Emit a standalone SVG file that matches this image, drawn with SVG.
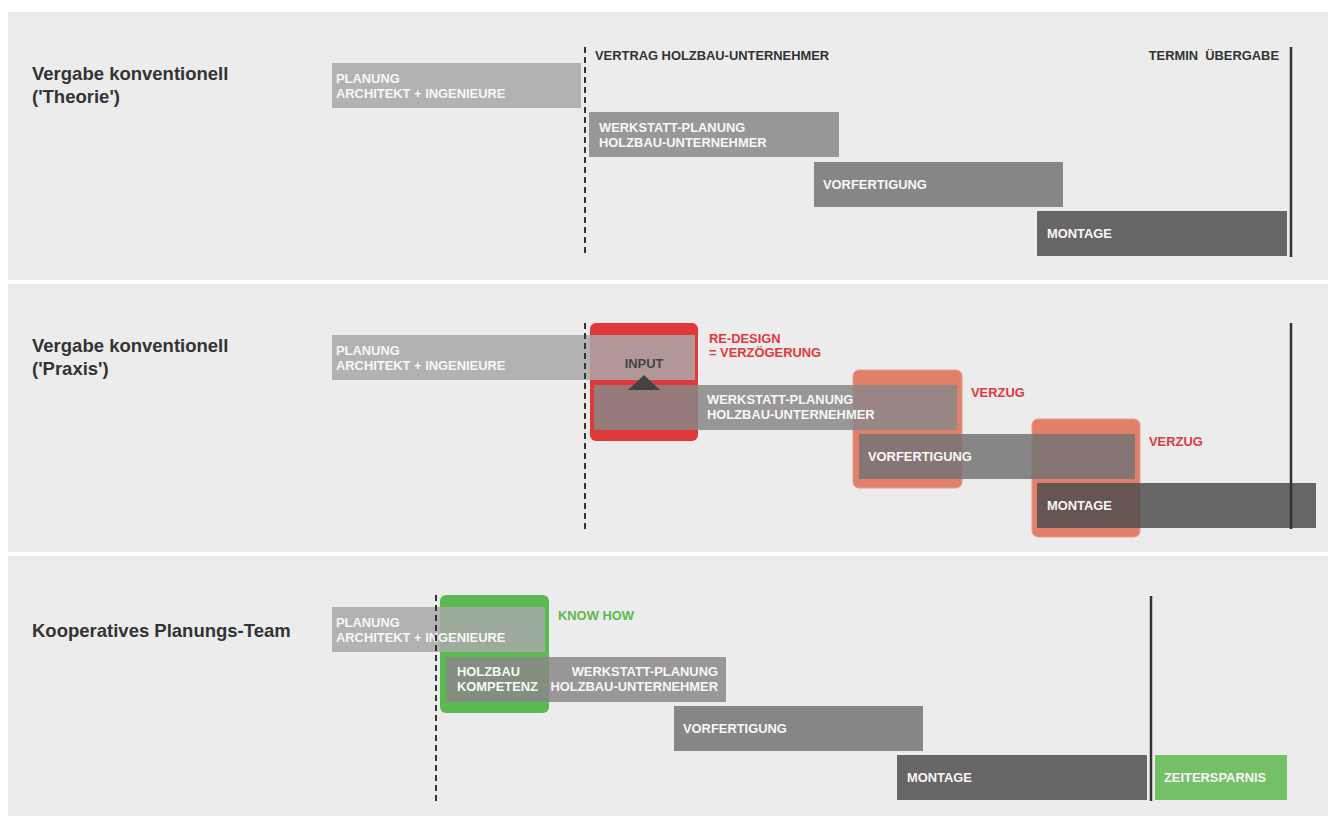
<svg xmlns="http://www.w3.org/2000/svg" width="1328" height="816" viewBox="0 0 1328 816">
<style>
.panel{fill:#ececec}
.title{font-family:"Liberation Sans",Arial,sans-serif;font-weight:bold;font-size:18.5px;fill:#333}
.lbl{font-family:"Liberation Sans",Arial,sans-serif;font-weight:bold;font-size:12.9px}
.w{fill:#f7f7f7}
.dk{fill:#333}
.red{fill:#e0393b}
.grn{fill:#5ab94f}
.b1{fill:#a8a8a8;fill-opacity:0.85}
.b2{fill:#898787;fill-opacity:0.85}
.b3{fill:#767474;fill-opacity:0.85}
.b4{fill:#504e4e;fill-opacity:0.85}
.dash{stroke:#333;stroke-width:2;stroke-dasharray:6 4;fill:none}
.line{stroke:#333;stroke-width:2.5;fill:none}
</style>
<rect width="1328" height="816" fill="#ffffff"/>
<g id="panels">
<rect class="panel" x="8" y="12" width="1320" height="268"/>
<rect class="panel" x="8" y="284" width="1320" height="268"/>
<rect class="panel" x="8" y="556" width="1320" height="260"/>
</g>

<!-- Panel 1 -->
<g id="title1"><text class="title" x="32" y="80">Vergabe konventionell</text><text class="title" x="32" y="103">('Theorie')</text></g>
<g id="p1-planung"><rect class="b1" x="332" y="63" width="249" height="45"/><text class="lbl w" x="336" y="83">PLANUNG</text><text class="lbl w" x="336" y="98">ARCHITEKT + INGENIEURE</text></g>
<g id="p1-werkstatt"><rect class="b2" x="589" y="112" width="250" height="45"/><text class="lbl w" x="599" y="132">WERKSTATT-PLANUNG</text><text class="lbl w" x="599" y="147">HOLZBAU-UNTERNEHMER</text></g>
<g id="p1-vorfertigung"><rect class="b3" x="814" y="162" width="249" height="45"/><text class="lbl w" x="823" y="189">VORFERTIGUNG</text></g>
<g id="p1-montage"><rect class="b4" x="1037" y="211" width="250" height="45"/><text class="lbl w" x="1047" y="238">MONTAGE</text></g>
<g id="p1-vertrag"><text class="lbl dk" x="595" y="60">VERTRAG HOLZBAU-UNTERNEHMER</text></g>
<g id="p1-termin"><text class="lbl dk" x="1279" y="60" text-anchor="end" style="white-space:pre">TERMIN  ÜBERGABE</text></g>

<!-- Panel 2 -->
<g id="title2"><text class="title" x="32" y="352">Vergabe konventionell</text><text class="title" x="32" y="375">('Praxis')</text></g>
<g id="p2-redesign"><rect x="590" y="323" width="108" height="118" rx="6" fill="#e0393b"/><text class="lbl red" x="709" y="343">RE-DESIGN</text><text class="lbl red" x="709" y="357">= VERZÖGERUNG</text></g>
<g id="p2-verzug1"><rect x="853" y="370" width="109" height="118" rx="6" fill="#e0806a" stroke="#e89a86" stroke-width="1"/><text class="lbl red" x="971" y="397">VERZUG</text></g>
<g id="p2-verzug2"><rect x="1032" y="419" width="108" height="118" rx="6" fill="#e0806a" stroke="#e89a86" stroke-width="1"/><text class="lbl red" x="1149" y="446">VERZUG</text></g>
<g id="p2-planung"><rect class="b1" x="332" y="335" width="363" height="45"/><text class="lbl w" x="336" y="355">PLANUNG</text><text class="lbl w" x="336" y="370">ARCHITEKT + INGENIEURE</text><text class="lbl" x="644" y="368" text-anchor="middle" fill="#444">INPUT</text></g>
<g id="p2-werkstatt"><rect class="b2" x="594" y="385" width="363" height="45"/><text class="lbl w" x="707" y="404">WERKSTATT-PLANUNG</text><text class="lbl w" x="707" y="419">HOLZBAU-UNTERNEHMER</text></g>
<g id="p2-input-arrow"><polygon points="628,390 660,390 644,375" fill="#444"/></g>
<g id="p2-vorfertigung"><rect class="b3" x="859" y="434" width="276" height="45"/><text class="lbl w" x="868" y="461">VORFERTIGUNG</text></g>
<g id="p2-montage"><rect class="b4" x="1037" y="483" width="279" height="45"/><text class="lbl w" x="1047" y="510">MONTAGE</text></g>

<!-- Panel 3 -->
<g id="title3"><text class="title" x="32" y="637">Kooperatives Planungs-Team</text></g>
<g id="p3-knowhow"><rect x="440" y="595" width="109" height="118" rx="6" fill="#5ab950"/><text class="lbl grn" x="558" y="620">KNOW HOW</text></g>
<g id="p3-planung"><rect class="b1" x="332" y="607" width="213" height="45"/><text class="lbl w" x="336" y="627">PLANUNG</text><text class="lbl w" x="336" y="642">ARCHITEKT + INGENIEURE</text></g>
<g id="p3-werkstatt"><rect class="b2" x="446" y="657" width="280" height="45"/><text class="lbl w" x="457" y="676">HOLZBAU</text><text class="lbl w" x="457" y="691">KOMPETENZ</text><text class="lbl w" x="718" y="676" text-anchor="end">WERKSTATT-PLANUNG</text><text class="lbl w" x="718" y="691" text-anchor="end">HOLZBAU-UNTERNEHMER</text></g>
<g id="p3-vorfertigung"><rect class="b3" x="674" y="706" width="249" height="45"/><text class="lbl w" x="683" y="733">VORFERTIGUNG</text></g>
<g id="p3-montage"><rect class="b4" x="897" y="755" width="250" height="45"/><text class="lbl w" x="907" y="782">MONTAGE</text></g>
<g id="p3-zeitersparnis"><rect x="1155" y="755" width="132" height="45" fill="#74c067"/><text class="lbl w" x="1164" y="782">ZEITERSPARNIS</text></g>

<g id="connectors">
<line class="dash" x1="585" y1="47" x2="585" y2="257"/>
<line class="line" x1="1291" y1="47" x2="1291" y2="257"/>
<line class="dash" x1="585" y1="323" x2="585" y2="529"/>
<line class="line" x1="1291" y1="323" x2="1291" y2="529"/>
<line class="dash" x1="436" y1="595" x2="436" y2="801"/>
<line class="line" x1="1151" y1="596" x2="1151" y2="801"/>
</g>
</svg>
